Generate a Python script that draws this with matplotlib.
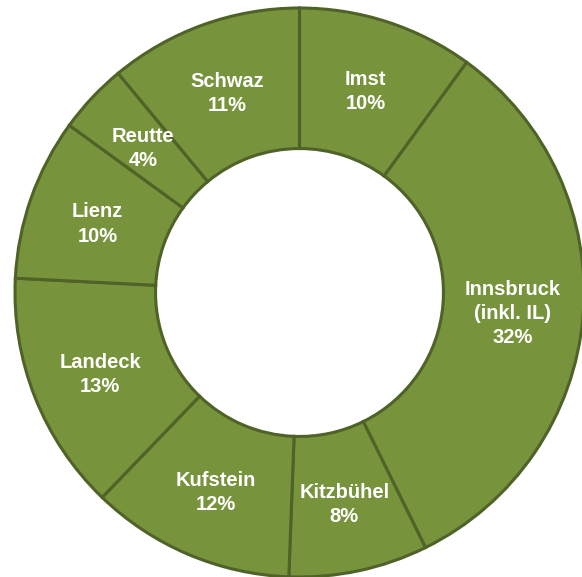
import matplotlib.pyplot as plt
import numpy as np

# Data (clockwise from top). Slice sizes read from the drawn geometry,
# label percentages as printed on the chart.
districts = ["Imst", "Innsbruck\n(inkl. IL)", "Kitzbühel", "Kufstein",
             "Landeck", "Lienz", "Reutte", "Schwaz"]
slice_sizes = [10.0, 32.7, 7.9, 11.6, 13.6, 9.2, 4.0, 11.0]
pct_labels = ["10%", "32%", "8%", "12%", "13%", "10%", "4%", "11%"]

fill = "#77933C"
edge = "#4F6228"

fig = plt.figure(figsize=(5.82, 5.77), dpi=100)
ax = fig.add_axes([0, 0, 1, 1])

R = 284.5  # outer radius in pixels
cx, cy = 299.5, 292.5  # centre in pixels (from top-left)
inner = 0.506

wedges, _ = ax.pie(slice_sizes, startangle=90, counterclock=False, radius=1,
                   colors=[fill] * len(slice_sizes),
                   wedgeprops=dict(width=1 - inner, edgecolor=edge, linewidth=2.2))

# labels in the middle of each ring segment
rlab = (1 + inner) / 2
for w, name, p in zip(wedges, districts, pct_labels):
    ang = np.deg2rad((w.theta1 + w.theta2) / 2)
    ax.text(rlab * np.cos(ang), rlab * np.sin(ang) - 0.01, f"{name}\n{p}",
            ha="center", va="center", color="white", fontsize=14.5,
            fontweight="bold", family="Liberation Sans", linespacing=1.35)

ax.set_aspect("equal")
ax.set_xlim(-cx / R, (582 - cx) / R)
ax.set_ylim(-(577 - cy) / R, cy / R)
ax.axis("off")

fig.savefig("out.png", dpi=100)
